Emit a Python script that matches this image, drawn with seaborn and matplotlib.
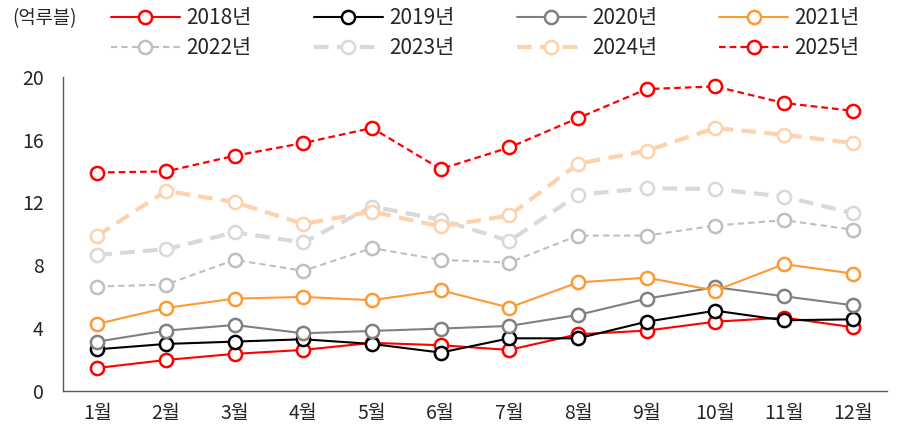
import matplotlib
matplotlib.use("Agg")
import matplotlib.pyplot as plt
import seaborn as sns
import numpy as np

# 월별 데이터 (억루블)
months = ["1월", "2월", "3월", "4월", "5월", "6월", "7월", "8월", "9월", "10월", "11월", "12월"]
y2018 = [1.45, 1.96, 2.35, 2.6, 3.05, 2.9, 2.6, 3.6, 3.83, 4.4, 4.66, 4.05]
y2019 = [2.64, 2.98, 3.13, 3.28, 2.98, 2.43, 3.34, 3.34, 4.4, 5.1, 4.49, 4.55]
y2020 = [3.13, 3.83, 4.19, 3.66, 3.81, 3.96, 4.13, 4.83, 5.87, 6.6, 6.02, 5.45]
y2021 = [4.26, 5.28, 5.87, 5.98, 5.77, 6.4, 5.3, 6.9, 7.21, 6.38, 8.07, 7.47]
y2022 = [6.64, 6.77, 8.34, 7.64, 9.09, 8.34, 8.17, 9.89, 9.89, 10.53, 10.87, 10.27]
y2023 = [8.66, 9.02, 10.1, 9.45, 11.74, 10.9, 9.55, 12.49, 12.91, 12.85, 12.38, 11.32]
y2024 = [9.89, 12.74, 12.02, 10.64, 11.42, 10.47, 11.17, 14.47, 15.3, 16.75, 16.32, 15.79]
y2025 = [13.91, 13.98, 14.98, 15.79, 16.75, 14.13, 15.51, 17.38, 19.23, 19.4, 18.34, 17.85]

series = [
    ("2018년", y2018, "#FF0000", "-", 1.5),
    ("2019년", y2019, "#000000", "-", 1.5),
    ("2020년", y2020, "#808080", "-", 1.5),
    ("2021년", y2021, "#FF9933", "-", 1.5),
    ("2022년", y2022, "#BFBFBF", (0, (3, 2)), 1.5),
    ("2023년", y2023, "#D9D9D9", (0, (3.5, 2)), 3),
    ("2024년", y2024, "#FDD2AC", (0, (3.5, 2)), 3),
    ("2025년", y2025, "#FF0000", (0, (3, 1.8)), 1.6),
]

sns.set_style("white")
plt.rcParams["font.family"] = ["Noto Sans CJK KR", "DejaVu Sans"]

fig = plt.figure(figsize=(8.99, 4.32), dpi=100)
ax = fig.add_axes([63 / 899, 1 - 390.7 / 432, (887 - 63) / 899, (390.7 - 77) / 432])

handles = {}
for name, vals, color, ls, lw in series:
    sns.lineplot(x=months, y=vals, ax=ax, color=color, linestyle=ls, linewidth=lw,
                 marker="o", markersize=9.5, markerfacecolor="white",
                 markeredgecolor=color, markeredgewidth=1.8, errorbar=None,
                 label=name, legend=False)
    handles[name] = ax.lines[-1]

ax.set_xlim(-0.5, 11.5)
ax.set_ylim(0, 20)
ax.set_yticks([0, 4, 8, 12, 16, 20])
ax.set_xticks(range(12))
ax.set_xticklabels(months)
ax.set_xticks(np.arange(-0.5, 12, 1), minor=True)
ax.tick_params(axis="x", which="major", length=0, pad=9, labelsize=14, labelcolor="#262626")
ax.tick_params(axis="x", which="minor", length=5, width=1, color="#595959", direction="out")
ax.tick_params(axis="y", length=5, width=1, color="#595959", direction="out", pad=9,
               labelsize=14, labelcolor="#262626")
ax.set_xlabel("")
ax.set_ylabel("")
for s in ["top", "right"]:
    ax.spines[s].set_visible(False)
for s in ["left", "bottom"]:
    ax.spines[s].set_color("#595959")
    ax.spines[s].set_linewidth(1)

order = ["2018년", "2022년", "2019년", "2023년", "2020년", "2024년", "2021년", "2025년"]
fig.legend([handles[k] for k in order], order, ncol=4, loc="upper left",
           bbox_to_anchor=(111 / 899, 1 - 7 / 432), frameon=False, fontsize=15,
           handlelength=3.3, handletextpad=0.3, columnspacing=3.0, labelspacing=0.4,
           borderpad=0, borderaxespad=0, labelcolor="#262626")
fig.text(12 / 899, 1 - 19 / 432, "(억루블)", fontsize=13.5, color="#262626", va="center")

fig.savefig("out.png", dpi=100)
